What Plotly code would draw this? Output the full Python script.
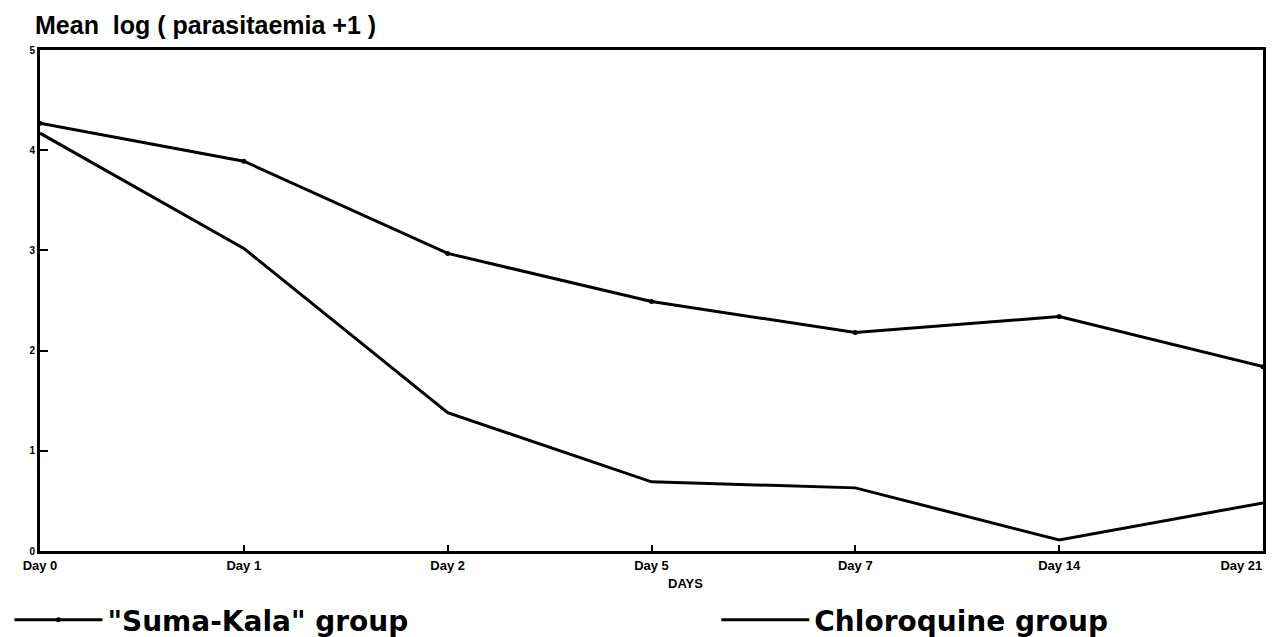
import plotly.graph_objects as go

days = ["Day 0", "Day 1", "Day 2", "Day 5", "Day 7", "Day 14", "Day 21"]
suma_kala = [4.27, 3.89, 2.97, 2.49, 2.18, 2.34, 1.84]
chloroquine = [4.17, 3.02, 1.38, 0.69, 0.63, 0.11, 0.48]
y_ticks = [0, 1, 2, 3, 4, 5]

FONT = "Liberation Sans"
LEGEND_FONT = dict(size=28, family="DejaVu Sans", weight="bold", color="black")

# last label sits against the page edge: pad it so it stays readable
tick_text = days[:-1] + [days[-1] + "\u00a0" * 12]

fig = go.Figure()
fig.add_trace(go.Scatter(
    x=days, y=suma_kala, name='"Suma-Kala" group', mode="lines+markers",
    line=dict(color="black", width=3), marker=dict(color="black", size=5),
    legend="legend",
))
fig.add_trace(go.Scatter(
    x=days, y=chloroquine, name="Chloroquine group", mode="lines",
    line=dict(color="black", width=3),
    legend="legend2",
))

# the page adds an 8px body margin, so the figure is 8px smaller
fig.update_layout(
    width=1268, height=629,
    margin=dict(l=32, r=13, t=42, b=86, autoexpand=False),
    paper_bgcolor="white", plot_bgcolor="white",
    font=dict(family=FONT, color="black"),
    showlegend=True,
    legend=dict(
        x=-0.025, xanchor="left", y=-0.138, yanchor="middle",
        itemwidth=88, font=LEGEND_FONT, bgcolor="rgba(0,0,0,0)",
    ),
    legend2=dict(
        x=0.553, xanchor="left", y=-0.138, yanchor="middle",
        itemwidth=88, font=LEGEND_FONT, bgcolor="rgba(0,0,0,0)",
    ),
    annotations=[
        dict(text="<b>Mean  log ( parasitaemia +1 )</b>", xref="paper", yref="paper",
             x=-0.006, y=1.0, xanchor="left", yanchor="bottom", yshift=9,
             showarrow=False, font=dict(size=25, family=FONT)),
        dict(text="<b>DAYS</b>", xref="paper", yref="paper",
             x=0.528, y=0, xanchor="center", yanchor="top", yshift=-23,
             showarrow=False, font=dict(size=13, family=FONT)),
    ],
)

fig.update_xaxes(
    type="category", categoryorder="array", categoryarray=days,
    tickvals=days, ticktext=tick_text,
    range=[0, len(days) - 1], automargin=False,
    showline=True, linecolor="black", linewidth=3, mirror=True,
    ticks="inside", ticklen=6, tickwidth=2, tickcolor="black",
    showgrid=False, zeroline=False,
    tickfont=dict(size=13, family=FONT, weight="bold"),
)
fig.update_yaxes(
    range=[0, 5], tickvals=y_ticks, automargin=False,
    showline=True, linecolor="black", linewidth=3, mirror=True,
    ticks="inside", ticklen=8, tickwidth=2, tickcolor="black",
    showgrid=False, zeroline=False,
    tickfont=dict(size=10, family=FONT, weight="bold"),
)

fig.write_html("out.html")
